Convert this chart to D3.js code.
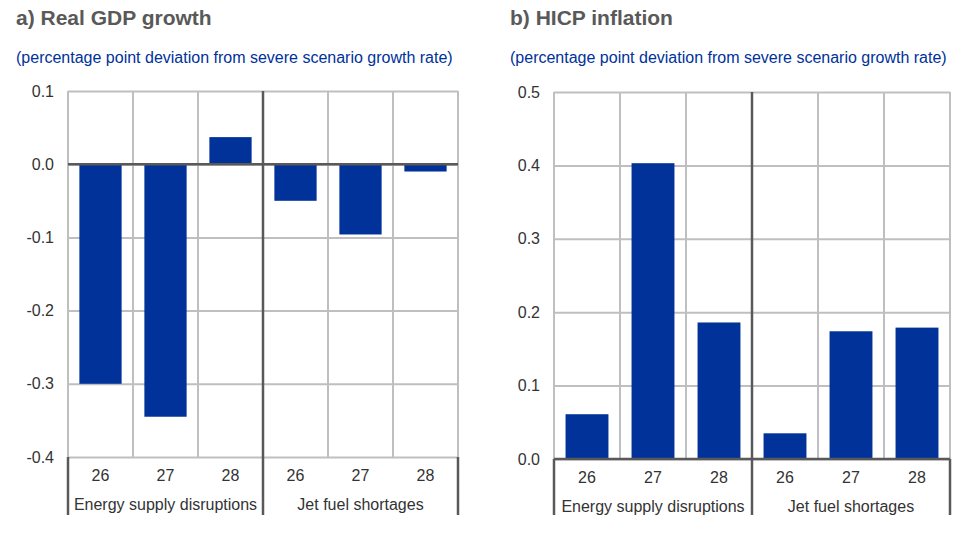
<!DOCTYPE html>
<html>
<head>
<meta charset="utf-8">
<script src="https://cdn.jsdelivr.net/npm/d3@7"></script>
<style>
  body { margin: 0; background: #fff; }
  text { font-family: "Liberation Sans", Arial, sans-serif; }
</style>
</head>
<body>
<script>
// chart values
var years = ["26", "27", "28"];
var groups = ["Energy supply disruptions", "Jet fuel shortages"];
var gdpValues = [-0.30, -0.345, 0.037, -0.05, -0.096, -0.01];
var hicpValues = [0.061, 0.403, 0.186, 0.035, 0.174, 0.179];
var gdpTicks = [0.1, 0.0, -0.1, -0.2, -0.3, -0.4];
var hicpTicks = [0.5, 0.4, 0.3, 0.2, 0.1, 0.0];

var blue = "#003299";
var grid = "#bfbfbf";
var dark = "#595959";

var svg = d3.select("body").append("svg")
  .attr("width", 966)
  .attr("height", 539);

var cells = [];
groups.forEach(function(g) {
  years.forEach(function(y) { cells.push(g + "|" + y); });
});

function panel(opt) {
  var g = svg.append("g");

  g.append("text")
    .text(opt.title)
    .attr("x", opt.tx)
    .attr("y", 25)
    .attr("font-size", 21)
    .attr("font-weight", "bold")
    .attr("fill", "#595959");

  g.append("text")
    .text("(percentage point deviation from severe scenario growth rate)")
    .attr("x", opt.tx)
    .attr("y", 63)
    .attr("font-size", 16)
    .attr("fill", blue);

  var x = d3.scaleBand()
    .domain(cells)
    .range([opt.left, opt.right]);

  var y = d3.scaleLinear()
    .domain(opt.domain)
    .range([opt.bottom, opt.top]);

  // horizontal grid + tick labels
  var yAxis = d3.axisLeft(y)
    .tickValues(opt.ticks)
    .tickSize(-(opt.right - opt.left))
    .tickPadding(14)
    .tickFormat(function(d) { return d.toFixed(1); });

  var ya = g.append("g")
    .attr("transform", "translate(" + opt.left + ",0)")
    .call(yAxis);
  ya.select(".domain").remove();
  ya.selectAll("line").attr("stroke", grid).attr("stroke-width", 2);
  ya.selectAll("text")
    .attr("font-size", 16)
    .attr("fill", "#333")
    .attr("font-family", "Liberation Sans, Arial, sans-serif");

  // vertical grid at cell edges
  var edges = cells.map(function(c) { return x(c); }).concat([opt.right]);
  g.selectAll(".vgrid")
    .data(edges)
    .enter().append("line")
    .attr("x1", function(d) { return d; })
    .attr("x2", function(d) { return d; })
    .attr("y1", opt.top)
    .attr("y2", opt.bottom)
    .attr("stroke", grid)
    .attr("stroke-width", 2);

  // bars
  var bw = x.bandwidth() * 0.65;
  g.selectAll(".bar")
    .data(opt.values)
    .enter().append("rect")
    .attr("x", function(d, i) { return x(cells[i]) + (x.bandwidth() - bw) / 2; })
    .attr("y", function(d) { return y(Math.max(0, d)); })
    .attr("width", bw)
    .attr("height", function(d) { return Math.abs(y(d) - y(0)); })
    .attr("fill", blue);

  // zero line
  g.append("line")
    .attr("x1", opt.left).attr("x2", opt.right)
    .attr("y1", y(0)).attr("y2", y(0))
    .attr("stroke", dark)
    .attr("stroke-width", 2.5);

  // category axis
  var catBottom = 515;
  var groupEdges = [opt.left, x(cells[3]), opt.right];
  g.selectAll(".gsep")
    .data(groupEdges)
    .enter().append("line")
    .attr("x1", function(d) { return d; })
    .attr("x2", function(d) { return d; })
    .attr("y1", function(d, i) { return i === 1 ? opt.top : opt.bottom; })
    .attr("y2", catBottom)
    .attr("stroke", dark)
    .attr("stroke-width", 2.5);

  g.selectAll(".yr")
    .data(cells)
    .enter().append("text")
    .text(function(c) { return c.split("|")[1]; })
    .attr("x", function(c) { return x(c) + x.bandwidth() / 2; })
    .attr("y", opt.bottom + 24)
    .attr("text-anchor", "middle")
    .attr("font-size", 16)
    .attr("fill", "#333");

  g.selectAll(".grp")
    .data(groups)
    .enter().append("text")
    .text(function(d) { return d; })
    .attr("x", function(d, i) { return (groupEdges[i] + groupEdges[i + 1]) / 2; })
    .attr("y", opt.bottom + 53)
    .attr("text-anchor", "middle")
    .attr("font-size", 16)
    .attr("fill", "#333");
}

panel({
  title: "a) Real GDP growth",
  tx: 16,
  left: 68, right: 458, top: 91, bottom: 457,
  domain: [-0.4, 0.1],
  ticks: gdpTicks,
  values: gdpValues
});

panel({
  title: "b) HICP inflation",
  tx: 510,
  left: 554, right: 950, top: 92, bottom: 459,
  domain: [0, 0.5],
  ticks: hicpTicks,
  values: hicpValues
});
</script>
</body>
</html>
